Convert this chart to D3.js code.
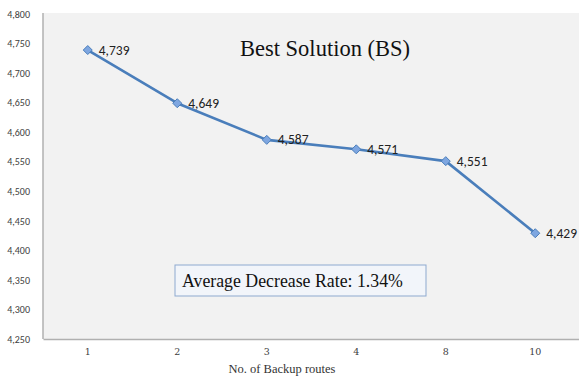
<!DOCTYPE html>
<html>
<head>
<meta charset="utf-8">
<script src="https://cdn.jsdelivr.net/npm/d3@7"></script>
<style>
  html, body { margin: 0; padding: 0; background: #ffffff; }
  svg { display: block; }
</style>
</head>
<body>
<svg id="chart" width="579" height="376"></svg>
<script>
// Best solution value per number of backup routes
const categories = ["1", "2", "3", "4", "8", "10"];
const values = [4739, 4649, 4587, 4571, 4551, 4429];
const yTicks = [4250, 4300, 4350, 4400, 4450, 4500, 4550, 4600, 4650, 4700, 4750, 4800];
const titleText = "Best Solution (BS)";
const noteText = "Average Decrease Rate: 1.34%";
const xTitle = "No. of Backup routes";

const svg = d3.select("#chart");
const plot = { left: 43, right: 580, top: 13, bottom: 339 };

const x = d3.scaleBand().domain(categories).range([plot.left, plot.right]);
const y = d3.scaleLinear().domain([4250, 4800]).range([plot.bottom, 14]);

// plot background
svg.append("rect")
  .attr("x", plot.left).attr("y", plot.top)
  .attr("width", plot.right - plot.left).attr("height", plot.bottom - plot.top)
  .attr("fill", "#f2f2f2");

// y axis
const yAxis = svg.append("g")
  .attr("transform", `translate(${plot.left},0)`)
  .call(d3.axisLeft(y).tickValues(yTicks).tickSize(0).tickPadding(13).tickFormat(d3.format(",")));
yAxis.select(".domain").attr("stroke", "#b0b0b0").attr("stroke-width", 1.5)
  .attr("d", `M0,${plot.top}V${plot.bottom}`);
yAxis.selectAll("text")
  .attr("font-family", "Carlito, 'Liberation Sans', sans-serif")
  .attr("font-size", 10).attr("fill", "#404040");

// x axis
const xAxis = svg.append("g")
  .attr("transform", `translate(0,${plot.bottom})`)
  .call(d3.axisBottom(x).tickSize(0).tickPadding(9));
xAxis.select(".domain").attr("stroke", "#b0b0b0").attr("stroke-width", 1.5);
xAxis.selectAll("text")
  .attr("font-family", "'DejaVu Serif', serif")
  .attr("font-size", 9.5).attr("fill", "#404040");

svg.append("text")
  .attr("x", 282).attr("y", 373)
  .attr("text-anchor", "middle")
  .attr("font-family", "'Liberation Serif', 'Times New Roman', serif")
  .attr("font-size", 12.5).attr("fill", "#333")
  .text(xTitle);

// title
svg.append("text")
  .attr("x", 325).attr("y", 56)
  .attr("text-anchor", "middle")
  .attr("font-family", "'Liberation Serif', 'Times New Roman', serif")
  .attr("font-size", 22.5).attr("fill", "#111")
  .text(titleText);

// line series
const pts = categories.map((c, i) => ({ c, v: values[i] }));
const cx = d => x(d.c) + x.bandwidth() / 2;

svg.append("path")
  .datum(pts)
  .attr("fill", "none")
  .attr("stroke", "#4a7ebb")
  .attr("stroke-width", 2.6)
  .attr("stroke-linejoin", "round")
  .attr("d", d3.line().x(cx).y(d => y(d.v)));

svg.selectAll("path.marker")
  .data(pts)
  .join("path")
  .attr("class", "marker")
  .attr("transform", d => `translate(${cx(d)},${y(d.v)})`)
  .attr("d", "M0,-4.5L4.5,0L0,4.5L-4.5,0Z")
  .attr("fill", "#7ea6e0")
  .attr("stroke", "#4a7ebb")
  .attr("stroke-width", 1);

// data labels
svg.selectAll("text.label")
  .data(pts)
  .join("text")
  .attr("class", "label")
  .attr("x", d => cx(d) + 11)
  .attr("y", d => y(d.v) + 4.5)
  .attr("font-family", "Carlito, 'Liberation Sans', sans-serif")
  .attr("font-size", 13.5).attr("fill", "#222")
  .text(d => d3.format(",")(d.v));

// annotation box
svg.append("rect")
  .attr("x", 175).attr("y", 265).attr("width", 251).attr("height", 31)
  .attr("fill", "#f2f5fa").attr("stroke", "#8ea9cf").attr("stroke-width", 1);
svg.append("text")
  .attr("x", 182).attr("y", 287)
  .attr("font-family", "'Liberation Serif', 'Times New Roman', serif")
  .attr("font-size", 17.8).attr("fill", "#111")
  .text(noteText);
</script>
</body>
</html>
